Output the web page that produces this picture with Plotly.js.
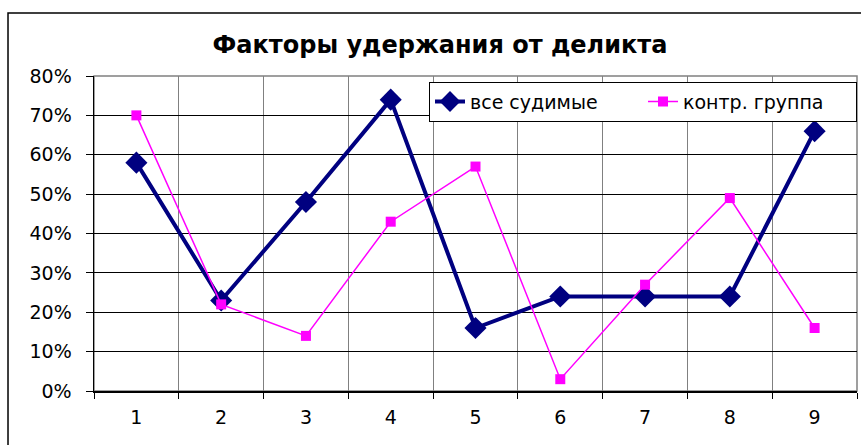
<!DOCTYPE html>
<html><head><meta charset="utf-8">
<script src="https://cdn.plot.ly/plotly-3.0.1.min.js"></script>
<style>body{margin:0;padding:0;background:#fff}#chart{width:861px;height:445px}</style>
</head><body><div id="chart"></div>
<script>
const categories = ['1','2','3','4','5','6','7','8','9'];
const allConvicted = [0.58, 0.23, 0.48, 0.74, 0.16, 0.24, 0.24, 0.24, 0.66];
const controlGroup = [0.70, 0.22, 0.14, 0.43, 0.57, 0.03, 0.27, 0.49, 0.16];
const seriesNames = ['все судимые', 'контр. группа'];
const titleText = 'Факторы удержания от деликта';

const FONT = 'DejaVu Sans, Liberation Sans, Arial, sans-serif';

const traces = [
  {x: categories, y: allConvicted, name: seriesNames[0], type: 'scatter', mode: 'lines+markers',
   line: {color: '#000080', width: 4}, marker: {symbol: 'diamond', size: 17, color: '#000080'}},
  {x: categories, y: controlGroup, name: seriesNames[1], type: 'scatter', mode: 'lines+markers',
   line: {color: '#FF00FF', width: 1.5}, marker: {symbol: 'square', size: 10, color: '#FF00FF'}}
];

const layout = {
  width: 861, height: 445,
  margin: {l: 94, r: 4, t: 76, b: 54},
  paper_bgcolor: '#fff', plot_bgcolor: '#fff',
  font: {family: FONT, color: '#000', size: 19},
  title: {text: '<b>' + titleText + '</b>', x: 0.511, xanchor: 'center', y: 0.9, yanchor: 'middle',
          font: {size: 24, family: FONT, color: '#000'}},
  showlegend: true,
  legend: {orientation: 'h', x: 1, xanchor: 'right', y: 0.982, yanchor: 'top',
           bgcolor: '#fff', bordercolor: '#000', borderwidth: 1,
           font: {size: 19, family: FONT}, itemwidth: 30, tracegroupgap: 0,
           entrywidth: 168, entrywidthmode: 'pixels'},
  xaxis: {type: 'category', range: [-0.5, 8.5], tickson: 'boundaries',
          showgrid: true, gridcolor: '#808080', gridwidth: 1,
          showline: true, linecolor: '#000', linewidth: 1.5,
          ticks: 'outside', ticklen: 6, tickcolor: '#000', tickfont: {size: 19},
          ticklabelstandoff: 9, zeroline: false, fixedrange: true},
  yaxis: {range: [0, 0.8], dtick: 0.1, tickformat: '.0%',
          showgrid: true, gridcolor: '#000', gridwidth: 1,
          showline: true, linecolor: '#000', linewidth: 1.5,
          ticks: 'outside', ticklen: 7, tickcolor: '#000', tickfont: {size: 19},
          ticklabelstandoff: 10, zeroline: false, fixedrange: true},
  shapes: [
    {type: 'rect', xref: 'paper', yref: 'paper', x0: 0, x1: 1, y0: 0, y1: 1,
     line: {color: '#808080', width: 1.5}, fillcolor: 'rgba(0,0,0,0)', layer: 'below'},
    {type: 'rect', xref: 'paper', yref: 'paper', x0: -0.1127, x1: 1.2, y0: -0.5, y1: 1.2,
     line: {color: '#000', width: 1.5}, fillcolor: 'rgba(0,0,0,0)', layer: 'above'}
  ]
};

Plotly.newPlot('chart', traces, layout, {displayModeBar: false, staticPlot: true});
</script></body></html>
